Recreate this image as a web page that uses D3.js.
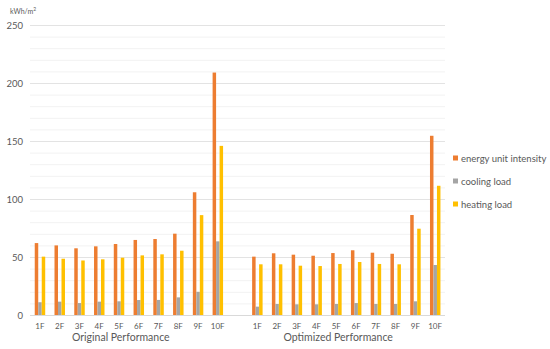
<!DOCTYPE html>
<html>
<head>
<meta charset="utf-8">
<script src="https://cdn.jsdelivr.net/npm/d3@7"></script>
<style>
  body { margin: 0; background: #fff; }
  text { font-family: Lato, "Liberation Sans", sans-serif; fill: #595959; }
</style>
</head>
<body>
<div id="chart"></div>
<script>
// data
const floors = ["1F", "2F", "3F", "4F", "5F", "6F", "7F", "8F", "9F", "10F"];
const groups = ["Original Performance", "Optimized Performance"];
const seriesNames = ["energy unit intensity", "cooling load", "heating load"];
const seriesColors = ["#ED7D31", "#A5A5A5", "#FFC000"];
const yTicks = [0, 50, 100, 150, 200, 250];

const origEUI     = [62, 60, 57.5, 59.2, 61.2, 64.7, 65.5, 70.1, 105.8, 209];
const origCooling = [11, 11.5, 10.3, 11.5, 11.8, 12.9, 13, 15.2, 20, 63.5];
const origHeating = [50.3, 48.5, 47, 48, 49.4, 51.4, 52.3, 55.4, 86.1, 145.8];

const optEUI      = [50.3, 53.2, 52, 51.1, 53.4, 55.8, 53.7, 52.8, 86.2, 154.5];
const optCooling  = [7.2, 9.5, 9.2, 9.2, 9.5, 10.3, 9.5, 9.5, 11.8, 43.1];
const optHeating  = [43.7, 43.7, 42.5, 42.2, 44, 45.7, 44, 43.7, 74.4, 111.4];

const width = 550, height = 349;
const margin = {top: 25, right: 105, bottom: 34, left: 30};
const plotW = width - margin.left - margin.right;
const plotH = height - margin.top - margin.bottom;

// one blank slot between the two groups
const keys = [];
floors.forEach(f => keys.push("orig-" + f));
keys.push("gap");
floors.forEach(f => keys.push("opt-" + f));

const rows = [];
floors.forEach((f, i) => rows.push({key: "orig-" + f, label: f, values: [origEUI[i], origCooling[i], origHeating[i]]}));
floors.forEach((f, i) => rows.push({key: "opt-" + f, label: f, values: [optEUI[i], optCooling[i], optHeating[i]]}));

const svg = d3.select("#chart").append("svg")
  .attr("width", width)
  .attr("height", height);

const g = svg.append("g")
  .attr("transform", `translate(${margin.left},${margin.top})`);

const x0 = d3.scaleBand().domain(keys).range([0, plotW]).padding(0);
const x1 = d3.scaleBand().domain(d3.range(3))
  .range([x0.bandwidth() * 0.24, x0.bandwidth() * 0.77]).padding(0);
const y = d3.scaleLinear().domain([0, 250]).range([plotH, 0]);

// minor grid every 10
g.append("g")
  .selectAll("line")
  .data(d3.range(10, 250, 10).filter(v => v % 50 !== 0))
  .enter().append("line")
  .attr("x1", 0).attr("x2", plotW)
  .attr("y1", d => y(d) + 0.5).attr("y2", d => y(d) + 0.5)
  .attr("stroke", "#f2f2f2");

// major grid + y labels
const yAxis = g.append("g")
  .call(d3.axisLeft(y).tickValues(yTicks).tickSize(-plotW).tickPadding(7));
yAxis.select(".domain").remove();
yAxis.selectAll(".tick line").attr("stroke", "#e3e3e3");
yAxis.selectAll(".tick text").style("font-size", "9.5px").attr("fill", "#595959");

svg.append("text")
  .attr("x", 10).attr("y", 14)
  .style("font-size", "7px")
  .html("kWh/m<tspan dy='-3' style='font-size:5px'>2</tspan>");

// bars
const cat = g.append("g").selectAll("g")
  .data(rows)
  .enter().append("g")
  .attr("transform", d => `translate(${x0(d.key)},0)`);

cat.selectAll("rect")
  .data(d => d.values)
  .enter().append("rect")
  .attr("x", (d, i) => x1(i))
  .attr("width", x1.bandwidth())
  .attr("y", d => y(d))
  .attr("height", d => plotH - y(d))
  .attr("fill", (d, i) => seriesColors[i]);

// baseline
g.append("line")
  .attr("x1", 0).attr("x2", plotW)
  .attr("y1", plotH + 0.5).attr("y2", plotH + 0.5)
  .attr("stroke", "#d9d9d9");

// category labels
const xAxis = g.append("g")
  .attr("transform", `translate(0,${plotH})`)
  .call(d3.axisBottom(x0).tickSize(0).tickPadding(8)
    .tickFormat(k => k === "gap" ? "" : k.split("-")[1]));
xAxis.select(".domain").remove();
xAxis.selectAll(".tick text").style("font-size", "8px").attr("fill", "#595959");

// group labels
const groupKeys = [["orig-1F", "orig-10F"], ["opt-1F", "opt-10F"]];
groups.forEach((name, i) => {
  const a = x0(groupKeys[i][0]);
  const b = x0(groupKeys[i][1]) + x0.bandwidth();
  g.append("text")
    .attr("x", (a + b) / 2 - 8)
    .attr("y", plotH + 26)
    .attr("text-anchor", "middle")
    .style("font-size", "10.5px")
    .text(name);
});

// legend
const legend = svg.append("g")
  .attr("transform", `translate(${margin.left + plotW + 8},154)`);
seriesNames.forEach((name, i) => {
  const row = legend.append("g").attr("transform", `translate(0,${i * 23})`);
  row.append("rect").attr("width", 5).attr("height", 5).attr("y", 1.5).attr("fill", seriesColors[i]);
  row.append("text").attr("x", 8).attr("y", 7.5).style("font-size", "9.5px").text(name);
});
</script>
</body>
</html>
